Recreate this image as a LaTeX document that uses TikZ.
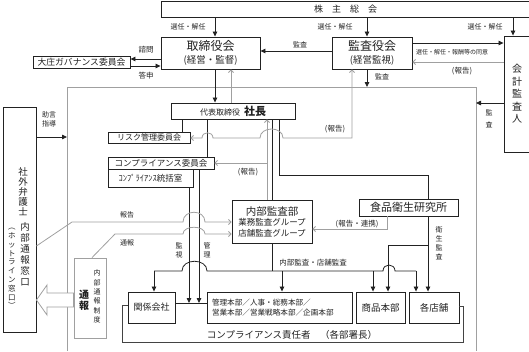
\documentclass[tikz,border=0pt]{standalone}
\usepackage{fontspec}
\setmainfont{Noto Sans CJK JP}
\usetikzlibrary{arrows.meta}
\definecolor{dk}{HTML}{222222}
\definecolor{gr}{HTML}{A0A0A0}
\newcommand\fsz[2]{\fontsize{#1}{#2}\selectfont}
\tikzset{
  box/.style={draw=dk, line width=0.9pt, inner sep=0pt, fill=white, text=dk},
  gbox/.style={draw=gr, line width=0.8pt, inner sep=0pt, fill=white, text=dk},
  ln/.style={draw=dk, line width=0.8pt},
  arr/.style={ln, -{Triangle[width=4.5pt,length=5pt]}},
  gln/.style={draw=gr, line width=0.8pt},
  garr/.style={gln, -{Straight Barb[width=5pt,length=2.5pt]}},
  gdarr/.style={gln, {Straight Barb[width=5pt,length=2.5pt]}-{Straight Barb[width=5pt,length=2.5pt]}},
  lbl/.style={inner sep=0pt, text=dk},
  vt/.style={lbl, align=center},
}
\begin{document}
\begin{tikzpicture}[x=1pt,y=-1pt]
\useasboundingbox (0,0) rectangle (529,351);
% gray frame of the company
\draw[gln] (67,351) -- (67,87) -- (476,87) -- (476,351);

% boxes
\node[box, minimum width=369pt, minimum height=16pt, font=\fsz{9}{9}] (kabu) at (345.5,9) {株　主　総　会};
\node[box, minimum width=99pt, minimum height=32pt, align=center, font=\fsz{12}{13}] (tori) at (210.5,53) {取締役会\\\fsz{9.5}{13}(経営・監督)};
\node[box, minimum width=97pt, minimum height=11.5pt, font=\fsz{8.8}{8.8}] (daisho) at (81.5,62.25) {大庄ガバナンス委員会};
\node[box, minimum width=80pt, minimum height=32pt, align=center, font=\fsz{12}{13}] (kansa) at (372,53) {監査役会\\\fsz{9.5}{13}(経営監視)};
\node[box, minimum width=26pt, minimum height=116pt, align=center, font=\fsz{10}{12.5}] (kaikei) at (517,94) {会\\計\\監\\査\\人};
\node[box, minimum width=124pt, minimum height=16pt, font=\fsz{8}{8}] (shacho) at (233,111) {代表取締役\hspace{4pt}{\fsz{11}{11}\bfseries 社長}};
\node[box, minimum width=82pt, minimum height=11pt, font=\fsz{8}{8}] (risk) at (149,137.5) {リスク管理委員会};
\node[box, minimum width=106pt, minimum height=12pt, font=\fsz{8.5}{8.5}] (comp) at (161,163) {コンプライアンス委員会};
\node[box, minimum width=85pt, minimum height=18pt, font=\fsz{8.5}{8.5}] (compstaff) at (150.5,178) {ｺﾝﾌﾟﾗｲｱﾝｽ統括室};
\node[box, minimum width=80pt, minimum height=43pt, align=center, font=\fsz{10.5}{10.5}] (naibu) at (272,221.5) {内部監査部\\\fsz{8.5}{10.5}業務監査グループ\\\fsz{8.5}{10.5}店舗監査グループ};
\node[box, minimum width=99pt, minimum height=17pt, font=\fsz{11}{11}] (shoku) at (408.5,207.5) {食品衛生研究所};
\node[box, minimum width=33pt, minimum height=225pt] (bengo) at (19.5,219.5) {};
\node[gbox, minimum width=32pt, minimum height=80pt] (tsuho) at (90,298) {};
\node[box, minimum width=47pt, minimum height=31pt, font=\fsz{9}{9}] (kankei) at (151.5,307.5) {関係会社};
\node[box, minimum width=145pt, minimum height=31pt, inner xsep=5pt, text width=135pt, align=left, font=\fsz{7.6}{10.5}] (kanri) at (279.5,307.5) {管理本部／人事・総務本部／\\営業本部／営業戦略本部／企画本部};
\node[box, minimum width=49pt, minimum height=31pt, font=\fsz{9.5}{9.5}] (shohin) at (380.5,307.5) {商品本部};
\node[box, minimum width=50pt, minimum height=31pt, font=\fsz{9.5}{9.5}] (tenpo) at (434,307.5) {各店舗};

% vertical texts in boxes
\node[vt, font=\fsz{9.5}{10}] (bengoA) at (23,192) {社\\外\\弁\\護\\士};
\node[vt, font=\fsz{9.5}{11}] (bengoB) at (25,254.5) {内\\部\\通\\報\\窓\\口};
\node[vt, font=\fsz{7.5}{8.8}] (bengoC) at (12,268.5) {︵\\ホ\\ッ\\ト\\ラ\\イ\\ン\\窓\\口\\︶};
\node[vt, font=\fsz{7}{9.4}] (tsuhoA) at (97,296.5) {内\\部\\通\\報\\制\\度};
\node[vt, font=\fsz{10}{11}\bfseries] (tsuhoB) at (84,300.5) {通\\報};

% top connectors
\draw[arr] (215,0 |- kabu.south) -- (215,0 |- tori.north);
\draw[arr] (367,0 |- kabu.south) -- (367,0 |- kansa.north);
\draw[arr] (513,0 |- kabu.south) -- (513,0 |- kaikei.north);
\draw[arr] (tori.west |- 0,59) -- (daisho.east |- 0,59);
\draw[arr] (daisho.east |- 0,66) -- (tori.west |- 0,66);
\draw[arr] (kansa.west |- 0,51) -- (tori.east |- 0,51);
\draw[arr] (kansa.east |- 0,43) -- (kaikei.west |- 0,43);
\draw[garr] (kaikei.west |- 0,62) -- (kansa.east |- 0,62);
\coordinate (frTop) at (367,87);
\draw[arr] (367,0 |- kansa.south) -- (frTop);
\draw[arr] (215,0 |- tori.south) -- (215,0 |- shacho.north);
\draw[garr] (231,0 |- shacho.north) -- (231,0 |- tori.south);
\coordinate (frRight) at (476,103);
\draw[arr] (kaikei.west |- frRight) -- (frRight);
\coordinate (frLeft) at (67,137);
\draw[arr] (bengo.east |- frLeft) -- (frLeft);

% president's connectors
\draw[ln] (182,0 |- shacho.south) -- (182,0 |- risk.north);
\draw[ln] (207,0 |- shacho.south) -- (207,0 |- comp.north);
\draw[ln] (272,0 |- shacho.south) -- (272,0 |- naibu.north);
\draw[garr] (267,0 |- naibu.north) -- (267,0 |- shacho.south);
\draw[garr] (267,163) -- (comp.east |- 0,163);
\draw[ln] (279,0 |- shacho.south) -- (279,175) -- (428,175) -- (428,0 |- shoku.north);
\draw[gdarr] (risk.east |- 0,138) -- (202,138) .. controls (202,131) and (213,131) .. (213,138)
  -- (260,138) .. controls (260,126) and (283,126) .. (283,138) -- (352,138) -- (352,0 |- kansa.south);

% compliance lines
\draw[arr] (189,0 |- compstaff.south) -- (189,303);
\draw[arr] (199,0 |- comp.south) -- (199,303);
\draw[ln] (kankei.east |- 0,303) -- (kanri.west |- 0,303);

% internal audit
\draw[ln] (272,0 |- naibu.south) -- (272,271);
\draw[ln] (154,271) -- (182,271) .. controls (182,258) and (207,258) .. (207,271)
  -- (383,271) .. controls (383,263) and (395,263) .. (395,271) -- (416,271);
\draw[arr] (154,271) -- (154,0 |- kankei.north);
\draw[arr] (282,271) -- (282,0 |- kanri.north);
\draw[arr] (373,271) -- (373,0 |- shohin.north);
\draw[arr] (416,271) -- (416,0 |- tenpo.north);

% food lab
\draw[arr] (428,0 |- shoku.south) -- (428,0 |- tenpo.north);
\draw[arr] (428,245) -- (388,245) -- (388,0 |- shohin.north);
\draw[garr] (387,0 |- shoku.south) -- (387,229) -- (naibu.east |- 0,229);

% compliance officers bracket
\draw[draw=dk!85, line width=0.8pt] (kankei.west |- 0,305) -- (122,305) -- (122,342) -- (463,342) -- (463,306) -- (tenpo.east |- 0,306);

% hotline reports
\draw[garr] (bengo.east |- 0,246) -- (72,222) -- (183,222) .. controls (183,209) and (205,209) .. (205,222) -- (naibu.west |- 0,222);
\draw[garr] ([xshift=2pt]tsuho.north) -- (115,234) -- (183,234) .. controls (183,225) and (205,225) .. (205,234) -- (naibu.west |- 0,234);
\draw[draw=gr, line width=0.8pt, fill=white] (tsuho.west |- 0,293) -- (47,293) -- (47,285) -- (bengo.east |- 0,300) -- (47,315) -- (47,307) -- (tsuho.west |- 0,307) -- cycle;

% labels
\node[lbl, font=\fsz{7}{7}] (l1) at (188,27) {選任・解任};
\node[lbl, font=\fsz{7}{7}] (l2) at (335,27) {選任・解任};
\node[lbl, font=\fsz{7}{7}] (l3) at (485,27) {選任・解任};
\node[lbl, font=\fsz{7.5}{7.5}] (l4) at (146,50) {諮問};
\node[lbl, font=\fsz{7.5}{7.5}] (l5) at (146,76) {答申};
\node[lbl, font=\fsz{7}{7}] (l6) at (300,45) {監査};
\node[lbl, font=\fsz{6}{6}] (l7) at (452,52) {選任・解任・報酬等の同意};
\node[lbl, font=\fsz{7.5}{7.5}] (l8) at (462,71) {(報告)};
\node[lbl, font=\fsz{7}{7}] (l9) at (382,77) {監査};
\node[vt, font=\fsz{7}{12}] (l10) at (489,119) {監\\査};
\node[vt, font=\fsz{7}{9}] (l11) at (49,119.5) {助言\\指導};
\node[lbl, font=\fsz{7.5}{7.5}] (l12) at (335,129) {(報告)};
\node[lbl, font=\fsz{7.5}{7.5}] (l13) at (248,172) {(報告)};
\node[lbl, font=\fsz{7.5}{7.5}] (l14) at (357,224) {(報告・連携)};
\node[lbl, font=\fsz{7}{7}] (l15) at (127,215) {報告};
\node[lbl, font=\fsz{7}{7}] (l16) at (127,243) {通報};
\node[vt, font=\fsz{7}{9}] (l17) at (179,250.5) {監\\視};
\node[vt, font=\fsz{7}{9}] (l18) at (207,250.5) {管\\理};
\node[vt, font=\fsz{7}{9}] (l19) at (439,243.5) {衛\\生\\監\\査};
\node[lbl, font=\fsz{7.5}{7.5}] (l20) at (313,263) {内部監査・店舗監査};
\node[lbl, font=\fsz{9.5}{9.5}] (l21) at (292,335) {コンプライアンス責任者　（各部署長）};
\end{tikzpicture}
\end{document}
